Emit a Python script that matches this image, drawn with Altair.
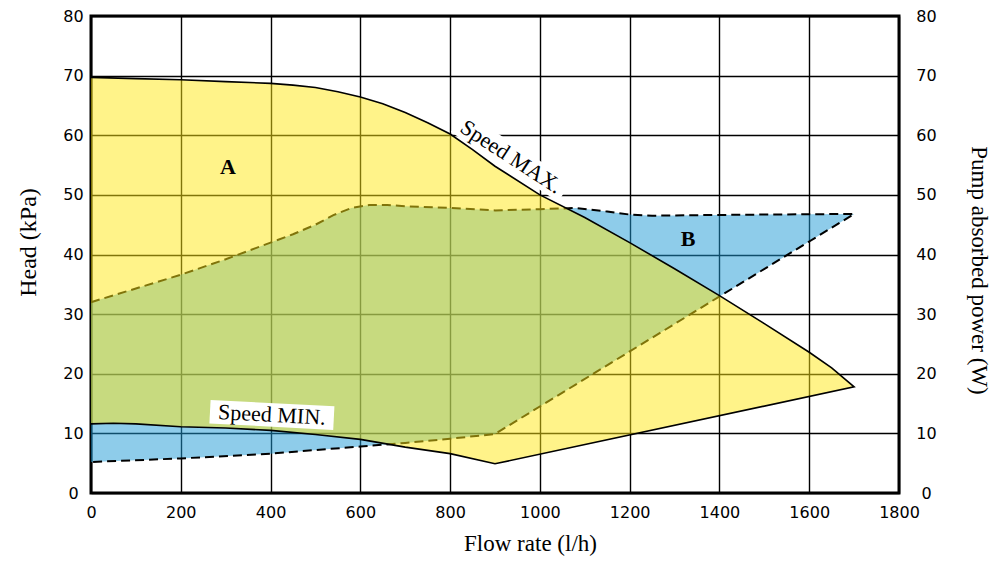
import altair as alt
import pandas as pd

# Speed MAX curve (top of region A)
MAX_X = [0, 100, 200, 300, 400, 450, 500, 550, 600, 650, 700, 750, 800, 850, 900, 1000, 1100, 1200, 1300, 1400, 1500, 1600, 1650, 1700]
MAX_Y = [69.7, 69.5, 69.3, 69.0, 68.7, 68.4, 68.0, 67.3, 66.4, 65.3, 63.8, 62.1, 60.2, 57.6, 54.8, 50.0, 46.2, 42.0, 37.6, 33.1, 28.4, 23.6, 21.0, 17.8]
# Speed MIN curve and lower edge of region A
MIN_X = [0, 50, 100, 200, 300, 400, 500, 600, 700, 800, 900, 1700]
MIN_Y = [11.6, 11.7, 11.6, 11.1, 10.9, 10.5, 9.8, 9.0, 7.7, 6.6, 4.9, 17.8]
# Power region B: upper dashed edge
PT_X = [0, 100, 200, 300, 400, 450, 500, 540, 580, 620, 660, 700, 800, 900, 1000, 1080, 1150, 1200, 1250, 1350, 1500, 1700]
PT_Y = [32.0, 34.3, 36.6, 39.2, 42.0, 43.4, 45.0, 46.6, 47.8, 48.3, 48.3, 48.1, 47.8, 47.4, 47.6, 47.8, 47.2, 46.7, 46.5, 46.6, 46.7, 46.8]
# Power region B: lower dashed edge
PB_X = [0, 200, 400, 600, 700, 800, 900, 1700]
PB_Y = [5.2, 5.8, 6.6, 7.8, 8.4, 9.1, 9.9, 46.8]

X_TICKS = list(range(0, 1801, 200))
Y_TICKS = list(range(0, 81, 10))

LABEL_TEXT = ["A", "B"]
LABEL_X = [305, 1330]
LABEL_Y = [54.7, 42.6]

CURVE_TEXT = ["Speed MAX.", "Speed MIN."]
CURVE_X = [936, 403]
CURVE_Y = [56.4, 13.1]


def poly(top_x, top_y, bot_x, bot_y):
    xs = list(top_x) + list(reversed(bot_x))
    ys = list(top_y) + list(reversed(bot_y))
    return pd.DataFrame({"x": xs, "y": ys, "i": list(range(len(xs)))})


yellow_df = poly(MAX_X, MAX_Y, MIN_X, MIN_Y)
blue_df = poly(PT_X, PT_Y, PB_X, PB_Y)
lab_df = pd.DataFrame({"t": LABEL_TEXT, "x": LABEL_X, "y": LABEL_Y})
cur_df = pd.DataFrame({"t": CURVE_TEXT, "x": CURVE_X, "y": CURVE_Y})

TICK_FONT = "DejaVu Sans"
SERIF = "Liberation Serif"

X = alt.X(
    "x:Q",
    scale=alt.Scale(domain=[0, 1800], nice=False),
    axis=alt.Axis(
        values=X_TICKS, format="d", grid=True, ticks=False, domain=False, labelFlush=False,
        title="Flow rate (l/h)", titleFont=SERIF, titleFontSize=23, titleFontWeight="normal",
        titleX=439, titleY=50, titleBaseline="middle",
        labelFont=TICK_FONT, labelFontSize=16, labelPadding=11, labelColor="black",
        gridColor="black", gridWidth=1.4, gridOpacity=1,
    ),
)
Y = alt.Y(
    "y:Q",
    scale=alt.Scale(domain=[0, 80], nice=False),
    axis=alt.Axis(
        values=Y_TICKS, grid=True, ticks=False, domain=False, labelFlush=False,
        title="Head (kPa)", titleFont=SERIF, titleFontSize=24, titleFontWeight="normal",
        titleX=-63, titleY=226, titleBaseline="middle", titleAngle=-90,
        labelFont=TICK_FONT, labelFontSize=16, labelAlign="center", labelPadding=18, labelColor="black",
        gridColor="black", gridWidth=1.4, gridOpacity=1,
    ),
)

blue = alt.Chart(blue_df).mark_line(
    fill="#1D99D5", fillOpacity=0.5, stroke="black", strokeWidth=2, strokeDash=[9, 5]
).encode(x=X, y=Y, order="i:Q")

yellow = alt.Chart(yellow_df).mark_line(
    fill="#FFE713", fillOpacity=0.5, stroke="black", strokeWidth=1.6
).encode(x=X, y=Y, order="i:Q")

labels = alt.Chart(lab_df).mark_text(
    font=SERIF, fontSize=22, fontWeight="bold", color="black"
).encode(x=X, y=Y, text="t:N")

max_df = cur_df.iloc[[0]]
min_df = cur_df.iloc[[1]]

box_path = "M-1,-0.19L1,-0.19L1,0.19L-1,0.19Z"
max_box = alt.Chart(max_df).mark_point(
    shape=box_path, size=64 * 64 * 4, angle=33, filled=True, fill="white", opacity=1, strokeWidth=0
).encode(x=X, y=Y)
max_txt = alt.Chart(max_df).mark_text(
    font=SERIF, fontSize=22, angle=33, color="black", baseline="middle"
).encode(x=X, y=Y, text="t:N")
min_box = alt.Chart(min_df).mark_point(
    shape=box_path, size=62 * 62 * 4, angle=3, filled=True, fill="white", opacity=1, strokeWidth=0
).encode(x=X, y=Y)
min_txt = alt.Chart(min_df).mark_text(
    font=SERIF, fontSize=22, angle=3, color="black", baseline="middle"
).encode(x=X, y=Y, text="t:N")

left = alt.layer(blue, yellow, labels, max_box, max_txt, min_box, min_txt)

right = alt.Chart(pd.DataFrame({"p": [0, 80]})).mark_point(opacity=0).encode(
    y=alt.Y(
        "p:Q",
        scale=alt.Scale(domain=[0, 80], nice=False),
        axis=alt.Axis(
            orient="right", values=Y_TICKS, grid=False, ticks=False, domain=False, labelFlush=False,
            title="Pump absorbed power (W)", titleFont=SERIF, titleFontSize=23, titleFontWeight="normal",
            titleX=79, titleY=254, titleBaseline="middle", titleAngle=90,
            labelFont=TICK_FONT, labelFontSize=16, labelAlign="center", labelPadding=27, labelColor="black",
        ),
    )
)

chart = (
    alt.layer(left, right)
    .resolve_scale(y="independent")
    .properties(
        width=808, height=477,
        autosize=alt.AutoSizeParams(type="none"),
        padding={"left": 83, "top": 8, "right": 93, "bottom": 64},
    )
    .configure_view(stroke="black", strokeWidth=3)
)

chart.save("out.html", embed_options={"renderer": "svg", "actions": False})
